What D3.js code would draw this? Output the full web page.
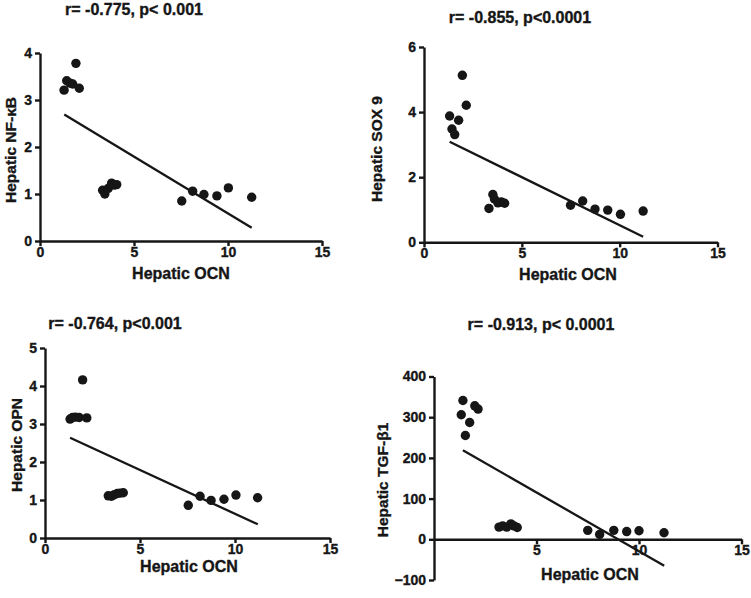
<!DOCTYPE html>
<html>
<head>
<meta charset="UTF-8">
<title>Hepatic OCN correlations</title>
<script src="https://d3js.org/d3.v7.min.js"></script>
<style>
  body { margin: 0; background: #fff; }
  svg text { font-family: "Liberation Sans", Arial, sans-serif; font-weight: bold; fill: #161616;
             stroke: #161616; stroke-width: 0.35px; }
</style>
</head>
<body>
<svg id="chart" width="751" height="598"></svg>
<script>
// values (x = Hepatic OCN)
const ocnNFkB = [1.28, 1.42, 1.6, 1.74, 1.91, 2.09, 3.33, 3.45, 3.63, 3.81, 3.95, 4.08, 7.54, 8.12, 8.72, 9.41, 10.02, 11.26];
const nfkb    = [3.21, 3.41, 3.36, 3.34, 3.78, 3.25, 1.08, 1.0, 1.12, 1.23, 1.19, 1.2, 0.85, 1.06, 0.99, 0.96, 1.13, 0.93];

const ocnSOX9 = [1.31, 1.43, 1.57, 1.77, 1.96, 2.16, 3.32, 3.52, 3.6, 3.78, 3.95, 4.12, 7.49, 8.11, 8.74, 9.39, 10.04, 11.2];
const sox9    = [3.88, 3.48, 3.31, 3.75, 5.13, 4.21, 1.04, 1.47, 1.33, 1.21, 1.24, 1.2, 1.14, 1.27, 1.02, 0.99, 0.86, 0.96];

const ocnOPN  = [1.32, 1.45, 1.6, 1.8, 1.98, 2.2, 3.33, 3.5, 3.65, 3.8, 3.95, 4.12, 7.54, 8.16, 8.74, 9.42, 10.05, 11.19];
const opn     = [3.13, 3.17, 3.18, 3.17, 4.16, 3.16, 1.11, 1.1, 1.14, 1.17, 1.18, 1.19, 0.86, 1.1, 0.99, 1.02, 1.13, 1.06];

const ocnTGF  = [1.33, 1.41, 1.53, 1.74, 1.99, 2.15, 3.17, 3.35, 3.55, 3.75, 3.9, 4.06, 7.5, 8.08, 8.77, 9.4, 10.0, 11.22];
const tgfb1   = [306, 341, 255, 287, 328, 320, 30, 33, 30, 38, 33, 29, 22, 12, 22, 19, 21, 16];

// regression line end points [x, y]
const fitNFkB = [[1.29, 2.69], [11.26, 0.28]];
const fitSOX9 = [[1.31, 3.09], [11.2, 0.17]];
const fitOPN  = [[1.32, 2.64], [11.2, 0.36]];
const fitTGF  = [[1.41, 219], [11.23, -65]];

// tick labels
const xTicks     = [0, 5, 10, 15];
const xTicksTGF  = [5, 10, 15];
const nfkbTicks  = [0, 1, 2, 3, 4];
const sox9Ticks  = [0, 2, 4, 6];
const opnTicks   = [0, 1, 2, 3, 4, 5];
const tgfTicks   = [-100, 0, 100, 200, 300, 400];

const titles  = ["r= -0.775, p< 0.001", "r= -0.855, p<0.0001", "r= -0.764, p<0.001", "r= -0.913, p< 0.0001"];
const yLabels = ["Hepatic NF-\u03BAB", "Hepatic SOX 9", "Hepatic OPN", "Hepatic TGF-\u03B21"];
const xLabel  = "Hepatic OCN";

// layout of each panel (pixels)
const panels = [
  { xs: ocnNFkB, ys: nfkb, fit: fitNFkB, yDom: [0, 4], yTicks: nfkbTicks, xT: xTicks,
    xr: [40, 322], yr: [241, 53], title: [134, 15], yl: [16, 150], xl: [181, 279] },
  { xs: ocnSOX9, ys: sox9, fit: fitSOX9, yDom: [0, 6], yTicks: sox9Ticks, xT: xTicks,
    xr: [424, 717.5], yr: [242.3, 47], title: [520, 23], yl: [382, 149], xl: [568, 280] },
  { xs: ocnOPN, ys: opn, fit: fitOPN, yDom: [0, 5], yTicks: opnTicks, xT: xTicks,
    xr: [45, 330], yr: [538, 348], title: [115, 329], yl: [22, 445], xl: [189, 572] },
  { xs: ocnTGF, ys: tgfb1, fit: fitTGF, yDom: [-100, 400], yTicks: tgfTicks, xT: xTicksTGF,
    xr: [434, 741.5], yr: [580, 376.5], title: [541, 330], yl: [388, 480], xl: [590, 580] }
];

const svg = d3.select("#chart");
const ink = "#161616";

panels.forEach((p, i) => {
  const x = d3.scaleLinear().domain([0, 15]).range(p.xr);
  const y = d3.scaleLinear().domain(p.yDom).range(p.yr);
  const g = svg.append("g");

  // x axis sits at y = 0
  const xa = g.append("g")
    .attr("transform", `translate(0,${y(0)})`)
    .call(d3.axisBottom(x).tickValues(p.xT).tickFormat(d3.format("d"))
      .tickSize(5).tickSizeOuter(0).tickPadding(1));

  const ya = g.append("g")
    .attr("transform", `translate(${p.xr[0]},0)`)
    .call(d3.axisLeft(y).tickValues(p.yTicks).tickFormat(d3.format("d"))
      .tickSize(5).tickSizeOuter(0).tickPadding(3));

  [xa, ya].forEach(a => {
    a.select(".domain").attr("stroke", ink).attr("stroke-width", 2.4);
    a.selectAll(".tick line").attr("stroke", ink).attr("stroke-width", 2.4);
    a.selectAll(".tick text").style("font-size", "14px").attr("fill", ink);
  });

  // regression line
  g.append("path")
    .datum(p.fit)
    .attr("fill", "none")
    .attr("stroke", ink)
    .attr("stroke-width", 2.3)
    .attr("d", d3.line().x(d => x(d[0])).y(d => y(d[1])));

  // points
  g.selectAll("circle")
    .data(p.xs.map((v, j) => [v, p.ys[j]]))
    .join("circle")
    .attr("cx", d => x(d[0]))
    .attr("cy", d => y(d[1]))
    .attr("r", 4.7)
    .attr("fill", ink);

  g.append("text")
    .attr("x", p.title[0]).attr("y", p.title[1])
    .attr("text-anchor", "middle")
    .style("font-size", "16px")
    .text(titles[i]);

  g.append("text")
    .attr("x", p.xl[0]).attr("y", p.xl[1])
    .attr("text-anchor", "middle")
    .style("font-size", "16px")
    .text(xLabel);

  g.append("text")
    .attr("transform", `translate(${p.yl[0]},${p.yl[1]}) rotate(-90)`)
    .attr("text-anchor", "middle")
    .style("font-size", "15.5px")
    .text(yLabels[i]);
});
</script>
</body>
</html>
